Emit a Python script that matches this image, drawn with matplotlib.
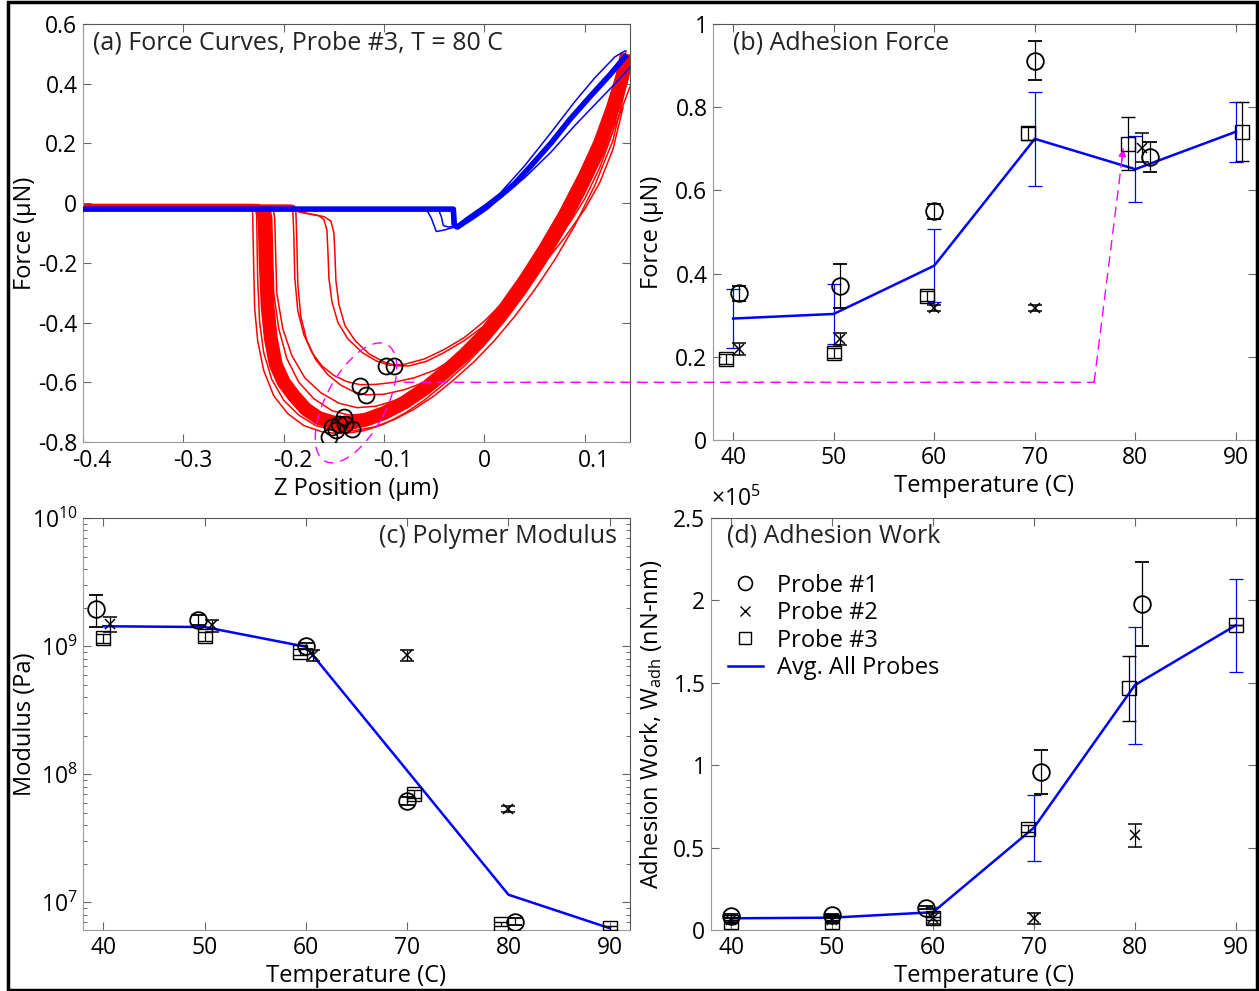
import matplotlib
matplotlib.use("Agg")
import matplotlib.pyplot as plt
from matplotlib import patches, transforms
from matplotlib.lines import Line2D
from matplotlib.patches import ConnectionPatch
from matplotlib.ticker import NullLocator, LogLocator

plt.rcParams['font.family'] = ['Open Sans', 'DejaVu Sans']
plt.rcParams['font.size'] = 16
plt.rcParams['axes.unicode_minus'] = False
plt.rcParams['mathtext.fontset'] = 'custom'
plt.rcParams['mathtext.rm'] = 'Open Sans'
plt.rcParams['mathtext.it'] = 'Open Sans:italic'
plt.rcParams['mathtext.default'] = 'regular'

W, H = 1259, 991
TICK_FS = 16.5
LABEL_FS = 17
TITLE_FS = 18

# ---- (a) force curves (z in um, F in uN) ----
RED_MAIN_Z = [-0.40, -0.225, -0.221, -0.219, -0.218, -0.216, -0.213, -0.208, -0.200, -0.190,
              -0.178, -0.165, -0.150, -0.135, -0.118, -0.100, -0.080, -0.060, -0.040, -0.020,
              0.000, 0.020, 0.040, 0.060, 0.080, 0.100, 0.115, 0.128, 0.137, 0.142]
RED_MAIN_F = [-0.008, -0.008, -0.015, -0.06, -0.20, -0.35, -0.45, -0.54, -0.60, -0.645,
              -0.69, -0.72, -0.735, -0.737, -0.725, -0.703, -0.668, -0.623, -0.568, -0.508,
              -0.44, -0.355, -0.26, -0.155, -0.04, 0.09, 0.20, 0.32, 0.42, 0.50]

RED_OUT1_Z = [-0.40, -0.233, -0.231, -0.230, -0.229, -0.226, -0.220, -0.210, -0.196, -0.180,
              -0.160, -0.140, -0.120, -0.100, -0.080, -0.060, -0.040, -0.020, 0.000, 0.020,
              0.040, 0.060, 0.080, 0.100, 0.120, 0.135, 0.145]
RED_OUT1_F = [-0.005, -0.005, -0.03, -0.20, -0.35, -0.46, -0.56, -0.645, -0.705, -0.745,
              -0.768, -0.772, -0.762, -0.74, -0.705, -0.66, -0.605, -0.545, -0.475, -0.395,
              -0.305, -0.205, -0.09, 0.035, 0.175, 0.30, 0.39]

RED_OUT2_Z = [-0.40, -0.229, -0.227, -0.226, -0.224, -0.220, -0.212, -0.200, -0.185, -0.168,
              -0.150, -0.130, -0.110, -0.090, -0.070, -0.050, -0.030, -0.010, 0.010, 0.030,
              0.050, 0.070, 0.090, 0.110, 0.128, 0.145]
RED_OUT2_F = [-0.006, -0.006, -0.04, -0.25, -0.40, -0.50, -0.59, -0.66, -0.71, -0.745,
              -0.76, -0.762, -0.75, -0.725, -0.69, -0.645, -0.59, -0.53, -0.46, -0.38,
              -0.29, -0.19, -0.075, 0.06, 0.21, 0.45]

RED_IN1_Z = [-0.40, -0.214, -0.212, -0.210, -0.205, -0.197, -0.185, -0.170, -0.152, -0.135,
             -0.115, -0.095, -0.075, -0.055, -0.035, -0.015, 0.005, 0.025, 0.045, 0.065,
             0.085, 0.105, 0.122, 0.135, 0.141]
RED_IN1_F = [-0.01, -0.01, -0.05, -0.30, -0.42, -0.52, -0.60, -0.655, -0.695, -0.71,
             -0.705, -0.685, -0.65, -0.605, -0.55, -0.485, -0.41, -0.325, -0.225, -0.115,
             0.01, 0.15, 0.29, 0.41, 0.51]

RED_IN2_Z = [-0.40, -0.211, -0.209, -0.207, -0.201, -0.192, -0.179, -0.163, -0.145, -0.127,
             -0.108, -0.088, -0.068, -0.048, -0.028, -0.008, 0.012, 0.032, 0.052, 0.072,
             0.092, 0.110, 0.126, 0.138]
RED_IN2_F = [-0.01, -0.01, -0.05, -0.30, -0.42, -0.51, -0.585, -0.635, -0.67, -0.685,
             -0.68, -0.66, -0.625, -0.58, -0.525, -0.46, -0.385, -0.30, -0.20, -0.09,
             0.035, 0.17, 0.31, 0.45]

RED_B1_Z = [-0.40, -0.195, -0.191, -0.190, -0.189, -0.186, -0.180, -0.172, -0.162, -0.150,
            -0.137, -0.124, -0.108, -0.090, -0.070, -0.050, -0.030, -0.010, 0.010, 0.030,
            0.050, 0.070, 0.090, 0.110, 0.125, 0.138]
RED_B1_F = [-0.008, -0.008, -0.02, -0.10, -0.25, -0.36, -0.44, -0.50, -0.545, -0.577,
            -0.598, -0.608, -0.607, -0.60, -0.585, -0.56, -0.52, -0.47, -0.405, -0.325,
            -0.235, -0.13, -0.01, 0.125, 0.26, 0.42]

RED_B2_Z = [-0.40, -0.192, -0.188, -0.187, -0.186, -0.183, -0.177, -0.168, -0.156, -0.143,
            -0.130, -0.118, -0.100, -0.080, -0.060, -0.040, -0.020, 0.000, 0.020, 0.040,
            0.060, 0.080, 0.100, 0.118, 0.132, 0.142]
RED_B2_F = [-0.008, -0.008, -0.02, -0.12, -0.27, -0.38, -0.46, -0.525, -0.575, -0.61,
            -0.632, -0.642, -0.64, -0.625, -0.60, -0.565, -0.52, -0.46, -0.385, -0.30,
            -0.20, -0.09, 0.035, 0.17, 0.30, 0.44]

RED_C1_Z = [-0.40, -0.192, -0.186, -0.175, -0.165, -0.160, -0.157, -0.156, -0.155, -0.152,
            -0.146, -0.136, -0.122, -0.108, -0.095, -0.080, -0.060, -0.040, -0.020, 0.000,
            0.019, 0.035, 0.053, 0.070, 0.086, 0.100, 0.115, 0.128, 0.138]
RED_C1_F = [-0.008, -0.008, -0.028, -0.035, -0.042, -0.055, -0.09, -0.16, -0.25, -0.33,
            -0.40, -0.455, -0.50, -0.528, -0.543, -0.540, -0.522, -0.49, -0.45, -0.395,
            -0.33, -0.27, -0.205, -0.135, -0.06, 0.015, 0.12, 0.24, 0.38]

RED_C2_Z = [-0.40, -0.190, -0.184, -0.172, -0.160, -0.153, -0.150, -0.149, -0.148, -0.145,
            -0.139, -0.129, -0.115, -0.100, -0.088, -0.075, -0.058, -0.040, -0.020, 0.000,
            0.020, 0.040, 0.060, 0.080, 0.100, 0.115, 0.128, 0.138]
RED_C2_F = [-0.008, -0.008, -0.03, -0.038, -0.045, -0.06, -0.10, -0.17, -0.26, -0.34,
            -0.41, -0.46, -0.505, -0.532, -0.545, -0.545, -0.53, -0.50, -0.46, -0.41,
            -0.35, -0.28, -0.20, -0.115, -0.02, 0.07, 0.18, 0.32]

BLUE_MAIN_Z = [-0.40, -0.031, -0.030, -0.027, -0.015, 0.000, 0.016, 0.030, 0.045, 0.066,
               0.085, 0.106, 0.125, 0.140]
BLUE_MAIN_F = [-0.02, -0.02, -0.075, -0.08, -0.05, -0.015, 0.025, 0.065, 0.12, 0.20,
               0.28, 0.36, 0.43, 0.49]
BLUE_UP_Z = [-0.40, -0.033, -0.032, -0.028, -0.015, 0.000, 0.016, 0.040, 0.066, 0.090,
             0.110, 0.130, 0.140]
BLUE_UP_F = [-0.02, -0.02, -0.07, -0.075, -0.045, -0.01, 0.035, 0.125, 0.235, 0.34,
             0.42, 0.49, 0.51]
BLUE_LOW_Z = [-0.40, -0.030, -0.029, -0.026, -0.012, 0.003, 0.016, 0.040, 0.066, 0.090,
              0.110, 0.130, 0.145]
BLUE_LOW_F = [-0.02, -0.02, -0.08, -0.085, -0.055, -0.02, 0.018, 0.085, 0.17, 0.26,
              0.33, 0.40, 0.455]
BLUE_DIP_Z = [-0.40, -0.058, -0.053, -0.048, -0.040, -0.032, -0.030]
BLUE_DIP_F = [-0.02, -0.02, -0.05, -0.095, -0.09, -0.082, -0.08]
BLUE_DIP2_Z = [-0.40, -0.046, -0.043, -0.041, -0.036, -0.030]
BLUE_DIP2_F = [-0.02, -0.02, -0.045, -0.075, -0.08, -0.078]

# picked minima (black circles)
A_CIRC_Z = [-0.152, -0.140, -0.139, -0.132, -0.145, -0.155, -0.148, -0.124, -0.118, -0.0985, -0.090]
A_CIRC_F = [-0.750, -0.717, -0.739, -0.755, -0.739, -0.783, -0.760, -0.611, -0.644, -0.544, -0.544]

A_XTICKS = [-0.4, -0.3, -0.2, -0.1, 0, 0.1]
A_YTICKS = [-0.8, -0.6, -0.4, -0.2, 0, 0.2, 0.4, 0.6]

# ---- temperature panels ----
TEMPS = [40, 50, 60, 70, 80, 90]
T_TICKS = [40, 50, 60, 70, 80, 90]

# (b) adhesion force, uN
B_AVG = [0.292, 0.303, 0.419, 0.724, 0.651, 0.741]
B_AVG_ERR = [0.072, 0.073, 0.088, 0.113, 0.080, 0.072]
B_P1_T = [40.6, 50.6, 60.0, 70.0, 81.5]
B_P1 = [0.353, 0.371, 0.550, 0.912, 0.680]
B_P1_ERR = [0.018, 0.053, 0.018, 0.047, 0.036]
B_P2_T = [40.6, 50.6, 60.0, 70.0, 80.7]
B_P2 = [0.219, 0.243, 0.317, 0.317, 0.703]
B_P2_ERR = [0.015, 0.015, 0.008, 0.008, 0.035]
B_P3_T = [39.3, 50.0, 59.3, 69.3, 79.3, 90.6]
B_P3 = [0.194, 0.209, 0.345, 0.737, 0.712, 0.741]
B_P3_ERR = [0.012, 0.012, 0.012, 0.015, 0.064, 0.071]
B_YTICKS = [0, 0.2, 0.4, 0.6, 0.8, 1]

# (c) modulus, Pa
C_AVG = [1.43e9, 1.41e9, 0.99e9, 1.07e8, 1.15e7, 6.3e6]
C_P1_T = [39.3, 49.4, 60.0, 70.0, 80.6]
C_P1 = [1.96e9, 1.61e9, 1.0e9, 6.2e7, 7.1e6]
C_P1_ERR = [0.55e9, 0.15e9, 0.05e9, 0.4e7, 0.4e6]
C_P2_T = [40.7, 50.7, 60.7, 70.0, 80.0]
C_P2 = [1.49e9, 1.45e9, 0.85e9, 0.85e9, 5.35e7]
C_P2_ERR = [0.2e9, 0.15e9, 0.08e9, 0.09e9, 0.3e7]
C_P3_T = [40.0, 50.0, 59.4, 70.7, 79.3, 90.0]
C_P3 = [1.15e9, 1.2e9, 0.9e9, 7.0e7, 6.8e6, 6.3e6]
C_P3_ERR = [0.1e9, 0.1e9, 0.05e9, 0.5e7, 0.3e6, 0.2e6]

# (d) adhesion work, x1e5 nN-nm
D_AVG = [0.071, 0.075, 0.108, 0.621, 1.486, 1.849]
D_AVG_ERR = [0.02, 0.02, 0.03, 0.20, 0.355, 0.283]
D_P1_T = [40.0, 50.0, 59.3, 70.7, 80.7]
D_P1 = [0.085, 0.089, 0.135, 0.958, 1.98]
D_P1_ERR = [0.01, 0.01, 0.01, 0.135, 0.255]
D_P2_T = [40.0, 50.0, 60.0, 70.0, 80.0]
D_P2 = [0.06, 0.06, 0.07, 0.07, 0.575]
D_P2_ERR = [0.01, 0.01, 0.035, 0.035, 0.07]
D_P3_T = [40.0, 50.0, 60.0, 69.4, 79.4, 90.0]
D_P3 = [0.05, 0.05, 0.07, 0.615, 1.468, 1.849]
D_P3_ERR = [0.01, 0.01, 0.01, 0.02, 0.197, 0.0]
D_YTICKS = [0, 0.5, 1, 1.5, 2, 2.5]

MAGENTA = '#ff00ff'
DASH = (0, (7, 5))


def px_axes(left, top, right, bottom):
    """axes rectangle from pixel edges of the 1259x991 picture"""
    return fig.add_axes([left / W, 1 - bottom / H, (right - left) / W, (bottom - top) / H])


def style_axes(ax):
    for side in ('left', 'bottom'):
        ax.spines[side].set_color('#999999')
    for side in ('top', 'right'):
        ax.spines[side].set_color('#555555')
    ax.tick_params(direction='in', top=True, right=True, length=6, width=0.8,
                   color='#666666', labelsize=TICK_FS, pad=4)


def probe_errorbars(ax, p1, p2, p3):
    kw = dict(ecolor='k', elinewidth=0.9, capsize=5, capthick=0.9, linestyle='none', zorder=4)
    ax.errorbar(p1[0], p1[1], yerr=p1[2], fmt='o', mfc='none', mec='k', ms=12, mew=1.3, **kw)
    ax.errorbar(p2[0], p2[1], yerr=p2[2], fmt='x', color='k', ms=7, mew=1.1, **kw)
    ax.errorbar(p3[0], p3[1], yerr=p3[2], fmt='s', mfc='none', mec='k', ms=10, mew=1.0, **kw)


def temp_axis(ax):
    ax.set_xlim(38, 92)
    ax.set_xticks(T_TICKS)
    ax.set_xticklabels([str(t) for t in T_TICKS])
    ax.xaxis.set_minor_locator(NullLocator())
    ax.set_xlabel('Temperature (C)', fontsize=LABEL_FS, labelpad=3)


fig = plt.figure(figsize=(W / 100, H / 100), dpi=100)

# ---------------- (a) ----------------
ax_a = px_axes(83, 24, 630, 442)
style_axes(ax_a)
red_curves = [(RED_OUT1_Z, RED_OUT1_F), (RED_OUT2_Z, RED_OUT2_F), (RED_IN1_Z, RED_IN1_F),
              (RED_IN2_Z, RED_IN2_F), (RED_B1_Z, RED_B1_F), (RED_B2_Z, RED_B2_F),
              (RED_C1_Z, RED_C1_F), (RED_C2_Z, RED_C2_F)]
# thick core of the bundle only below the snap-off, the flat part stays thin
ax_a.plot(RED_MAIN_Z[:3], RED_MAIN_F[:3], color='red', lw=2.5, zorder=2)
ax_a.plot(RED_MAIN_Z[2:], RED_MAIN_F[2:], color='red', lw=10, solid_joinstyle='round',
          solid_capstyle='butt', zorder=2)
for z, f in red_curves:
    ax_a.plot(z, f, color='red', lw=1.1, zorder=2)
ax_a.plot(BLUE_MAIN_Z, BLUE_MAIN_F, color='blue', lw=4, zorder=3)
for z, f in [(BLUE_UP_Z, BLUE_UP_F), (BLUE_LOW_Z, BLUE_LOW_F), (BLUE_DIP_Z, BLUE_DIP_F),
             (BLUE_DIP2_Z, BLUE_DIP2_F)]:
    ax_a.plot(z, f, color='blue', lw=1.1, zorder=3)
ax_a.plot(A_CIRC_Z, A_CIRC_F, 'o', mfc='none', mec='k', ms=11.5, mew=1.3, zorder=5)
ax_a.set_xlim(-0.4, 0.145)
ax_a.set_ylim(-0.8, 0.6)
ax_a.set_xticks(A_XTICKS)
ax_a.set_xticklabels([f'{t:g}' for t in A_XTICKS])
ax_a.set_yticks(A_YTICKS)
ax_a.set_yticklabels([f'{t:g}' for t in A_YTICKS])
ax_a.tick_params(axis='x', pad=5)
# the picture draws the decimal labels a little right of their ticks
shift = transforms.ScaledTranslation(0.09, 0, fig.dpi_scale_trans)
for lbl in ax_a.get_xticklabels():
    if lbl.get_text() != '0':
        lbl.set_transform(lbl.get_transform() + shift)
ax_a.set_xlabel('Z Position (\u03bcm)', fontsize=LABEL_FS, labelpad=3)
ax_a.set_ylabel('Force (\u03bcN)', fontsize=LABEL_FS)
ax_a.yaxis.set_label_coords(-0.084, 0.5)
ax_a.text(0.018, 0.955, '(a) Force Curves, Probe #3, T = 80 C', transform=ax_a.transAxes,
          ha='left', va='center', fontsize=TITLE_FS, color='#222222')

# dashed ellipse around the minima, sized in inches
ell = patches.Ellipse((0, 0), width=1.32, height=0.60, angle=62,
                      transform=fig.dpi_scale_trans + transforms.ScaledTranslation(-0.128, -0.669, ax_a.transData),
                      fill=False, ec=MAGENTA, lw=1, ls=DASH, clip_on=False)
fig.add_artist(ell)

# ---------------- (b) ----------------
ax_b = px_axes(713, 24, 1256, 440)
style_axes(ax_b)
ax_b.errorbar(TEMPS, B_AVG, yerr=B_AVG_ERR, color='blue', lw=1.8, elinewidth=0.9,
              capsize=5, capthick=0.9, zorder=3)
probe_errorbars(ax_b, (B_P1_T, B_P1, B_P1_ERR), (B_P2_T, B_P2, B_P2_ERR), (B_P3_T, B_P3, B_P3_ERR))
temp_axis(ax_b)
ax_b.set_ylim(0, 1)
ax_b.set_yticks(B_YTICKS)
ax_b.set_yticklabels([f'{t:g}' for t in B_YTICKS])
ax_b.set_ylabel('Force (\u03bcN)', fontsize=LABEL_FS)
ax_b.yaxis.set_label_coords(-0.090, 0.5)
ax_b.text(0.037, 0.954, '(b) Adhesion Force', transform=ax_b.transAxes,
          ha='left', va='center', fontsize=TITLE_FS, color='#222222')

# magenta link from (a) to (b)
blend = transforms.blended_transform_factory(ax_b.transData, ax_a.transData)
fig.add_artist(ConnectionPatch(xyA=(-0.08, -0.6), coordsA=ax_a.transData,
                               xyB=(75.9, -0.6), coordsB=blend,
                               color=MAGENTA, lw=1, ls=DASH))
fig.add_artist(ConnectionPatch(xyA=(75.9, -0.6), coordsA=blend,
                               xyB=(78.8, 0.70), coordsB=ax_b.transData,
                               color=MAGENTA, lw=1, ls=DASH))
ax_b.annotate('', xy=(78.8, 0.70), xytext=(78.65, 0.672),
              arrowprops=dict(arrowstyle='-|>', color=MAGENTA, lw=1, mutation_scale=11,
                              shrinkA=0, shrinkB=0))

# ---------------- (c) ----------------
ax_c = px_axes(83, 518, 630, 930)
style_axes(ax_c)
ax_c.set_yscale('log')
ax_c.plot(TEMPS, C_AVG, color='blue', lw=1.8, zorder=3)
probe_errorbars(ax_c, (C_P1_T, C_P1, C_P1_ERR), (C_P2_T, C_P2, C_P2_ERR), (C_P3_T, C_P3, C_P3_ERR))
temp_axis(ax_c)
ax_c.set_ylim(6.1e6, 1e10)
ax_c.yaxis.set_major_locator(LogLocator(base=10, numticks=10))
ax_c.yaxis.set_minor_locator(LogLocator(base=10, subs=range(2, 10), numticks=20))
ax_c.tick_params(which='minor', direction='in', left=True, right=True, length=3,
                 width=0.7, color='#666666')
ax_c.set_ylabel('Modulus (Pa)', fontsize=LABEL_FS)
ax_c.yaxis.set_label_coords(-0.084, 0.5)
ax_c.text(0.976, 0.956, '(c) Polymer Modulus', transform=ax_c.transAxes,
          ha='right', va='center', fontsize=TITLE_FS, color='#222222')

# ---------------- (d) ----------------
ax_d = px_axes(711, 518, 1256, 930)
style_axes(ax_d)
ax_d.errorbar(TEMPS, D_AVG, yerr=D_AVG_ERR, color='blue', lw=1.8, elinewidth=0.9,
              capsize=5, capthick=0.9, zorder=3)
probe_errorbars(ax_d, (D_P1_T, D_P1, D_P1_ERR), (D_P2_T, D_P2, D_P2_ERR), (D_P3_T, D_P3, D_P3_ERR))
temp_axis(ax_d)
ax_d.set_ylim(0, 2.5)
ax_d.set_yticks(D_YTICKS)
ax_d.set_yticklabels([f'{t:g}' for t in D_YTICKS])
ax_d.set_ylabel('Adhesion Work, W$_{adh}$ (nN-nm)', fontsize=LABEL_FS)
ax_d.yaxis.set_label_coords(-0.086, 0.5)
ax_d.text(0.0, 1.045, '\u00d710$^5$', transform=ax_d.transAxes, ha='left', va='center',
          fontsize=TICK_FS)
ax_d.text(0.029, 0.956, '(d) Adhesion Work', transform=ax_d.transAxes,
          ha='left', va='center', fontsize=TITLE_FS, color='#222222')

handles = [Line2D([], [], marker='o', ls='none', mfc='none', mec='k', ms=10, mew=1.2),
           Line2D([], [], marker='x', ls='none', color='k', ms=7, mew=1.0),
           Line2D([], [], marker='s', ls='none', mfc='none', mec='k', ms=9, mew=1.0),
           Line2D([], [], color='blue', lw=1.8)]
ax_d.legend(handles, ['Probe #1', 'Probe #2', 'Probe #3', 'Avg. All Probes'],
            loc='upper left', bbox_to_anchor=(0.0, 0.905), frameon=False, fontsize=LABEL_FS,
            handlelength=1.5, handletextpad=0.6, labelspacing=0.15, borderaxespad=0.3)

# outer frame of the figure
fig.add_artist(patches.Rectangle((8 / W, 1 / H), 1249 / W, 988 / H, transform=fig.transFigure,
                                 fill=False, ec='k', lw=2.5))

fig.savefig('out.png', dpi=100)
